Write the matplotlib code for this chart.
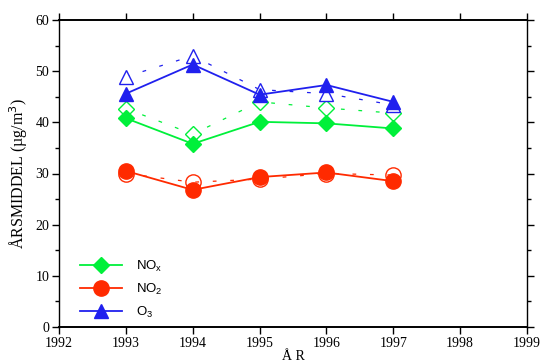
import matplotlib
matplotlib.use("Agg")
import matplotlib.pyplot as plt
from matplotlib.lines import Line2D
from matplotlib.ticker import MultipleLocator

years = [1993, 1994, 1995, 1996, 1997]
nox_filled = [40.8, 35.8, 40.1, 39.8, 38.8]
nox_open = [42.7, 37.7, 44.0, 42.8, 41.8]
no2_filled = [30.5, 26.8, 29.3, 30.2, 28.5]
no2_open = [30.0, 28.3, 28.9, 30.0, 29.7]
o3_filled = [45.6, 51.3, 45.4, 47.3, 44.0]
o3_open = [48.9, 53.0, 46.4, 45.6, 43.4]

green = "#00f03a"
red = "#ff2a00"
blue = "#2020ee"

serif = ["Liberation Serif", "DejaVu Serif"]
sans = ["Liberation Sans", "DejaVu Sans"]

fig = plt.figure(figsize=(5.41, 3.63), dpi=100)
ax = fig.add_axes([59/541, 36/363, 468/541, 307/363])

dash = (0, (3, 11))
# open (dashed) series
ax.plot(years, nox_open, color=green, lw=0.9, ls=dash, marker="D", ms=8,
        mfc="white", mec=green, mew=1.0, zorder=3)
ax.plot(years, no2_open, color=red, lw=0.9, ls=dash, marker="o", ms=11,
        mfc="none", mec=red, mew=1.0, zorder=4)
ax.plot(years, o3_open, color=blue, lw=0.9, ls=dash, marker="^", ms=9.5,
        mfc="white", mec=blue, mew=1.0, zorder=3)
# filled series
ax.plot(years, nox_filled, color=green, lw=1.3, marker="D", ms=8,
        mfc=green, mec=green, zorder=5)
ax.plot(years, no2_filled, color=red, lw=1.3, marker="o", ms=11,
        mfc=red, mec=red, zorder=3.5)
ax.plot(years, o3_filled, color=blue, lw=1.3, marker="^", ms=9.5,
        mfc=blue, mec=blue, zorder=5)

ax.set_xlim(1992, 1999)
ax.set_ylim(0, 60)
ax.xaxis.set_major_locator(MultipleLocator(1))
ax.yaxis.set_major_locator(MultipleLocator(10))
ax.yaxis.set_minor_locator(MultipleLocator(5))
ax.tick_params(axis="both", which="both", direction="out", top=True, right=True,
               labeltop=False, labelright=False)
ax.tick_params(which="major", length=5, width=1)
ax.tick_params(which="minor", length=3, width=1)
ax.tick_params(axis="x", which="minor", top=False, bottom=False)
ax.tick_params(axis="x", pad=2)
ax.tick_params(axis="y", pad=2)
for lab in ax.get_xticklabels() + ax.get_yticklabels():
    lab.set_fontfamily(serif)
    lab.set_fontsize(10)
for s in ax.spines.values():
    s.set_linewidth(1.0)
ax.spines["top"].set_linewidth(1.4)
ax.spines["bottom"].set_linewidth(1.4)

ax.set_ylabel("ÅRSMIDDEL (µg/m$^3$)", fontfamily=serif, fontsize=11.5, labelpad=4)
ax.set_xlabel("Å R", fontfamily=serif, fontsize=10, labelpad=0)

handles = [
    Line2D([], [], color=green, lw=1.3, marker="D", ms=8, mfc=green, mec=green),
    Line2D([], [], color=red, lw=1.3, marker="o", ms=11, mfc=red, mec=red),
    Line2D([], [], color=blue, lw=1.3, marker="^", ms=9.5, mfc=blue, mec=blue),
]
labels = ["NO$_\\mathregular{x}$", "NO$_\\mathregular{2}$", "O$_\\mathregular{3}$"]
leg = ax.legend(handles, labels, loc="lower left", bbox_to_anchor=(0.02, -0.015),
                frameon=False, handlelength=3.2, handletextpad=1.0,
                labelspacing=0.6, prop={"family": sans, "size": 9.5})

fig.savefig("out.png", dpi=100)
